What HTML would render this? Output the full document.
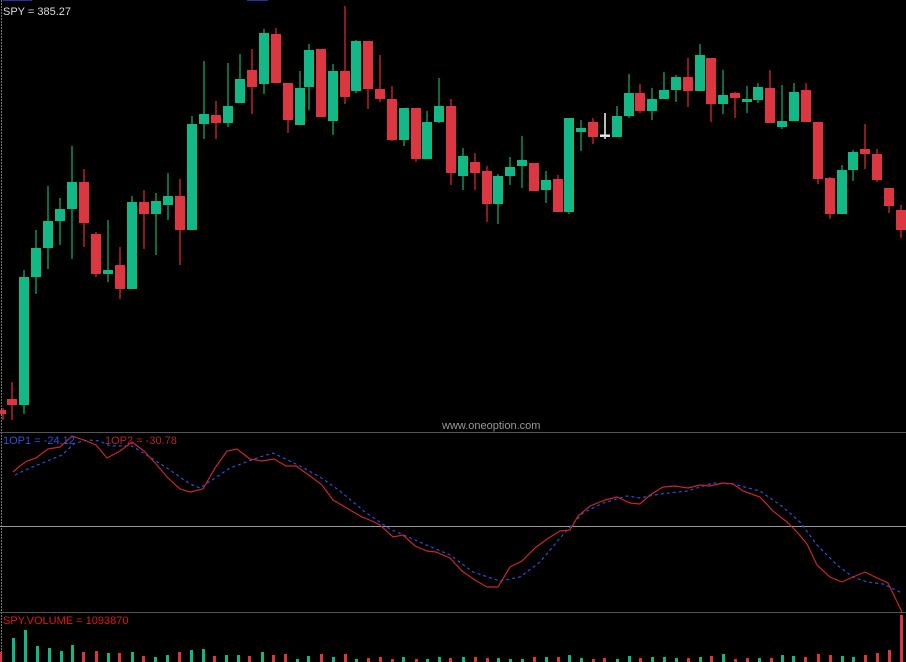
<!DOCTYPE html>
<html><head><meta charset="utf-8"><style>
html,body{margin:0;padding:0;background:#000;}
svg{display:block}
text{font-family:"Liberation Sans",sans-serif;}
</style></head><body>
<svg width="906" height="662" viewBox="0 0 906 662" xmlns="http://www.w3.org/2000/svg">
<rect width="906" height="662" fill="#000"/>
<rect x="3" y="0" width="29" height="1" fill="#2233aa"/>
<rect x="247" y="0" width="21" height="1" fill="#2233aa"/>
<line x1="1.5" y1="0" x2="1.5" y2="662" stroke="#777" stroke-dasharray="2,1"/>
<text x="3" y="15" font-size="11" fill="#ddd">SPY = 385.27</text>
<g stroke-width="2">
<!-- candles: wick then body -->
<g id="c">
<line x1="3" y1="408" x2="3" y2="420" stroke="#8b1a1f"/><rect x="0" y="410" width="6" height="4" fill="#dc3741"/>
<line x1="12" y1="382" x2="12" y2="420" stroke="#8b1a1f"/><rect x="7" y="399" width="10" height="6" fill="#dc3741"/>
<line x1="24" y1="270" x2="24" y2="414" stroke="#0a6b45"/><rect x="19" y="277" width="10" height="128" fill="#12b886"/>
<line x1="36" y1="230" x2="36" y2="294" stroke="#0a6b45"/><rect x="31" y="248" width="10" height="29" fill="#12b886"/>
<line x1="48" y1="186" x2="48" y2="269" stroke="#0a6b45"/><rect x="43" y="221" width="10" height="27" fill="#12b886"/>
<line x1="60" y1="198" x2="60" y2="245" stroke="#0a6b45"/><rect x="55" y="209" width="10" height="12" fill="#12b886"/>
<line x1="72" y1="146" x2="72" y2="259" stroke="#0a6b45"/><rect x="67" y="182" width="10" height="27" fill="#12b886"/>
<line x1="84" y1="169" x2="84" y2="247" stroke="#8b1a1f"/><rect x="79" y="182" width="10" height="41" fill="#dc3741"/>
<line x1="96" y1="232" x2="96" y2="277" stroke="#8b1a1f"/><rect x="91" y="234" width="10" height="40" fill="#dc3741"/>
<line x1="108" y1="220" x2="108" y2="282" stroke="#0a6b45"/><rect x="103" y="270" width="10" height="4" fill="#12b886"/>
<line x1="120" y1="247" x2="120" y2="299" stroke="#8b1a1f"/><rect x="115" y="265" width="10" height="24" fill="#dc3741"/>
<line x1="132" y1="196" x2="132" y2="289" stroke="#0a6b45"/><rect x="127" y="202" width="10" height="87" fill="#12b886"/>
<line x1="144" y1="190" x2="144" y2="249" stroke="#8b1a1f"/><rect x="139" y="202" width="10" height="12" fill="#dc3741"/>
<line x1="156" y1="193" x2="156" y2="255" stroke="#0a6b45"/><rect x="151" y="201" width="10" height="13" fill="#12b886"/>
<line x1="168" y1="173" x2="168" y2="220" stroke="#0a6b45"/><rect x="163" y="196" width="10" height="9" fill="#12b886"/>
<line x1="180" y1="179" x2="180" y2="265" stroke="#8b1a1f"/><rect x="175" y="196" width="10" height="34" fill="#dc3741"/>
<line x1="192" y1="116" x2="192" y2="230" stroke="#0a6b45"/><rect x="187" y="124" width="10" height="106" fill="#12b886"/>
<line x1="204" y1="61" x2="204" y2="139" stroke="#0a6b45"/><rect x="199" y="114" width="10" height="10" fill="#12b886"/>
<line x1="216" y1="101" x2="216" y2="139" stroke="#8b1a1f"/><rect x="211" y="115" width="10" height="8" fill="#dc3741"/>
<line x1="228" y1="63" x2="228" y2="127" stroke="#0a6b45"/><rect x="223" y="106" width="10" height="17" fill="#12b886"/>
<line x1="240" y1="54" x2="240" y2="103" stroke="#0a6b45"/><rect x="235" y="79" width="10" height="24" fill="#12b886"/>
<line x1="252" y1="49" x2="252" y2="114" stroke="#8b1a1f"/><rect x="247" y="70" width="10" height="17" fill="#dc3741"/>
<line x1="264" y1="29" x2="264" y2="94" stroke="#0a6b45"/><rect x="259" y="33" width="10" height="51" fill="#12b886"/>
<line x1="276" y1="28" x2="276" y2="83" stroke="#8b1a1f"/><rect x="271" y="34" width="10" height="49" fill="#dc3741"/>
<line x1="288" y1="83" x2="288" y2="133" stroke="#8b1a1f"/><rect x="283" y="83" width="10" height="37" fill="#dc3741"/>
<line x1="300" y1="71" x2="300" y2="125" stroke="#0a6b45"/><rect x="295" y="88" width="10" height="37" fill="#12b886"/>
<line x1="309" y1="44" x2="309" y2="110" stroke="#0a6b45"/><rect x="304" y="50" width="10" height="37" fill="#12b886"/>
<line x1="321" y1="49" x2="321" y2="117" stroke="#8b1a1f"/><rect x="316" y="49" width="10" height="68" fill="#dc3741"/>
<line x1="333" y1="64" x2="333" y2="135" stroke="#0a6b45"/><rect x="328" y="71" width="10" height="50" fill="#12b886"/>
<line x1="345" y1="6" x2="345" y2="104" stroke="#8b1a1f"/><rect x="340" y="71" width="10" height="26" fill="#dc3741"/>
<line x1="356" y1="40" x2="356" y2="93" stroke="#0a6b45"/><rect x="351" y="41" width="10" height="50" fill="#12b886"/>
<line x1="368" y1="41" x2="368" y2="109" stroke="#8b1a1f"/><rect x="363" y="41" width="10" height="48" fill="#dc3741"/>
<line x1="380" y1="55" x2="380" y2="102" stroke="#8b1a1f"/><rect x="375" y="89" width="10" height="10" fill="#dc3741"/>
<line x1="392" y1="86" x2="392" y2="141" stroke="#8b1a1f"/><rect x="387" y="99" width="10" height="41" fill="#dc3741"/>
<line x1="404" y1="108" x2="404" y2="146" stroke="#0a6b45"/><rect x="399" y="108" width="10" height="32" fill="#12b886"/>
<line x1="416" y1="108" x2="416" y2="162" stroke="#8b1a1f"/><rect x="411" y="108" width="10" height="51" fill="#dc3741"/>
<line x1="427" y1="111" x2="427" y2="159" stroke="#0a6b45"/><rect x="422" y="122" width="10" height="37" fill="#12b886"/>
<line x1="439" y1="78" x2="439" y2="123" stroke="#0a6b45"/><rect x="434" y="106" width="10" height="16" fill="#12b886"/>
<line x1="451" y1="99" x2="451" y2="185" stroke="#8b1a1f"/><rect x="446" y="106" width="10" height="67" fill="#dc3741"/>
<line x1="463" y1="148" x2="463" y2="190" stroke="#0a6b45"/><rect x="458" y="156" width="10" height="20" fill="#12b886"/>
<line x1="475" y1="153" x2="475" y2="190" stroke="#8b1a1f"/><rect x="470" y="162" width="10" height="11" fill="#dc3741"/>
<line x1="487" y1="166" x2="487" y2="222" stroke="#8b1a1f"/><rect x="482" y="171" width="10" height="33" fill="#dc3741"/>
<line x1="498" y1="174" x2="498" y2="224" stroke="#0a6b45"/><rect x="493" y="176" width="10" height="28" fill="#12b886"/>
<line x1="510" y1="157" x2="510" y2="185" stroke="#0a6b45"/><rect x="505" y="167" width="10" height="9" fill="#12b886"/>
<line x1="522" y1="136" x2="522" y2="188" stroke="#0a6b45"/><rect x="517" y="160" width="10" height="6" fill="#12b886"/>
<line x1="534" y1="163" x2="534" y2="191" stroke="#8b1a1f"/><rect x="529" y="163" width="10" height="28" fill="#dc3741"/>
<line x1="546" y1="171" x2="546" y2="203" stroke="#0a6b45"/><rect x="541" y="180" width="10" height="10" fill="#12b886"/>
<line x1="558" y1="175" x2="558" y2="212" stroke="#8b1a1f"/><rect x="553" y="179" width="10" height="33" fill="#dc3741"/>
<line x1="569" y1="118" x2="569" y2="214" stroke="#0a6b45"/><rect x="564" y="118" width="10" height="94" fill="#12b886"/>
<line x1="581" y1="120" x2="581" y2="151" stroke="#0a6b45"/><rect x="576" y="128" width="10" height="4" fill="#12b886"/>
<line x1="593" y1="118" x2="593" y2="144" stroke="#8b1a1f"/><rect x="588" y="122" width="10" height="15" fill="#dc3741"/>
<line x1="605" y1="113" x2="605" y2="139" stroke="#bbb"/><rect x="600" y="135" width="10" height="2" fill="#ddd"/>
<line x1="617" y1="106" x2="617" y2="137" stroke="#0a6b45"/><rect x="612" y="116" width="10" height="21" fill="#12b886"/>
<line x1="629" y1="74" x2="629" y2="118" stroke="#0a6b45"/><rect x="624" y="93" width="10" height="23" fill="#12b886"/>
<line x1="640" y1="84" x2="640" y2="113" stroke="#8b1a1f"/><rect x="635" y="93" width="10" height="18" fill="#dc3741"/>
<line x1="652" y1="88" x2="652" y2="120" stroke="#0a6b45"/><rect x="647" y="99" width="10" height="12" fill="#12b886"/>
<line x1="664" y1="72" x2="664" y2="99" stroke="#0a6b45"/><rect x="659" y="90" width="10" height="9" fill="#12b886"/>
<line x1="676" y1="75" x2="676" y2="102" stroke="#0a6b45"/><rect x="671" y="77" width="10" height="13" fill="#12b886"/>
<line x1="688" y1="58" x2="688" y2="107" stroke="#8b1a1f"/><rect x="683" y="77" width="10" height="14" fill="#dc3741"/>
<line x1="700" y1="44" x2="700" y2="91" stroke="#0a6b45"/><rect x="695" y="55" width="10" height="36" fill="#12b886"/>
<line x1="711" y1="58" x2="711" y2="122" stroke="#8b1a1f"/><rect x="706" y="58" width="10" height="46" fill="#dc3741"/>
<line x1="723" y1="70" x2="723" y2="114" stroke="#0a6b45"/><rect x="718" y="95" width="10" height="9" fill="#12b886"/>
<line x1="735" y1="92" x2="735" y2="118" stroke="#8b1a1f"/><rect x="730" y="93" width="10" height="5" fill="#dc3741"/>
<line x1="747" y1="86" x2="747" y2="113" stroke="#0a6b45"/><rect x="742" y="99" width="10" height="3" fill="#12b886"/>
<line x1="758" y1="83" x2="758" y2="103" stroke="#0a6b45"/><rect x="753" y="87" width="10" height="13" fill="#12b886"/>
<line x1="770" y1="70" x2="770" y2="123" stroke="#8b1a1f"/><rect x="765" y="88" width="10" height="35" fill="#dc3741"/>
<line x1="782" y1="85" x2="782" y2="129" stroke="#0a6b45"/><rect x="777" y="121" width="10" height="6" fill="#12b886"/>
<line x1="794" y1="83" x2="794" y2="121" stroke="#0a6b45"/><rect x="789" y="92" width="10" height="29" fill="#12b886"/>
<line x1="806" y1="83" x2="806" y2="122" stroke="#8b1a1f"/><rect x="801" y="90" width="10" height="32" fill="#dc3741"/>
<line x1="818" y1="122" x2="818" y2="184" stroke="#8b1a1f"/><rect x="813" y="122" width="10" height="57" fill="#dc3741"/>
<line x1="830" y1="177" x2="830" y2="219" stroke="#8b1a1f"/><rect x="825" y="178" width="10" height="36" fill="#dc3741"/>
<line x1="842" y1="165" x2="842" y2="214" stroke="#0a6b45"/><rect x="837" y="170" width="10" height="44" fill="#12b886"/>
<line x1="853" y1="150" x2="853" y2="181" stroke="#0a6b45"/><rect x="848" y="152" width="10" height="18" fill="#12b886"/>
<line x1="865" y1="124" x2="865" y2="169" stroke="#8b1a1f"/><rect x="860" y="149" width="10" height="5" fill="#dc3741"/>
<line x1="877" y1="149" x2="877" y2="182" stroke="#8b1a1f"/><rect x="872" y="154" width="10" height="26" fill="#dc3741"/>
<line x1="889" y1="188" x2="889" y2="213" stroke="#8b1a1f"/><rect x="884" y="188" width="10" height="18" fill="#dc3741"/>
<line x1="901" y1="205" x2="901" y2="238" stroke="#8b1a1f"/><rect x="896" y="210" width="10" height="20" fill="#dc3741"/>
</g>
</g>
<line x1="600" y1="135" x2="610" y2="135" stroke="#eee" stroke-width="1"/>
<text x="442" y="429" font-size="11" fill="#999">www.oneoption.com</text>
<line x1="0" y1="432.5" x2="906" y2="432.5" stroke="#555"/>
<line x1="0" y1="526.5" x2="906" y2="526.5" stroke="#999"/>
<line x1="0" y1="612.5" x2="906" y2="612.5" stroke="#555"/>
<polyline fill="none" stroke="#2f4fd8" stroke-width="1.2" stroke-dasharray="3,3" points="15,475 30,468 45,462 62,455 75,443 88,440 100,441 110,446 132,446 145,454 170,470 190,484 200,488 230,468 260,457 273,453 300,466 320,477 340,491 365,512 390,529 415,540 450,555 473,572 500,581 520,577 540,562 560,538 583,513 603,503 627,496 640,498 660,494 687,491 713,483 733,484 760,491 783,507 800,522 817,545 837,565 853,577 867,582 883,584 902,593"/>
<polyline fill="none" stroke="#c8262e" stroke-width="1.2" points="13,472 20,466 27,461 36,458 48,449 60,447 72,436 84,440 96,445 107,458 120,451 132,442 144,451 156,464 168,478 180,489 190,492 203,489 215,468 227,451 237,449 250,459 262,461 274,459 286,466 296,466 310,476 322,485 333,500 350,510 362,517 372,521 380,525 393,537 403,535 415,546 427,551 436,552 450,558 462,571 475,580 487,587 498,587 510,567 522,561 535,548 547,539 560,531 570,530 578,516 590,506 605,500 617,497 630,503 640,504 650,495 663,487 675,486 688,488 700,485 710,486 723,483 733,484 743,491 760,497 773,511 787,522 797,532 807,544 817,565 830,577 842,582 853,577 865,572 877,578 888,583 902,612"/>
<text x="3" y="444" font-size="11" fill="#2f4fd8">1OP1 = -24.12</text>
<text x="105" y="444" font-size="11" fill="#b3262d">1OP2 = -30.78</text>
<text x="3" y="624" font-size="11" fill="#dd1a1a">SPY.VOLUME = 1093870</text>
<g>
<rect x="0" y="652" width="2" height="10" fill="#dc3741"/>
<rect x="12" y="638" width="3" height="24" fill="#12b886"/>
<rect x="24" y="630" width="3" height="32" fill="#12b886"/>
<rect x="36" y="646" width="3" height="16" fill="#12b886"/>
<rect x="48" y="648" width="3" height="14" fill="#12b886"/>
<rect x="60" y="651" width="3" height="11" fill="#12b886"/>
<rect x="71" y="645" width="3" height="17" fill="#12b886"/>
<rect x="82" y="652" width="3" height="10" fill="#dc3741"/>
<rect x="95" y="651" width="3" height="11" fill="#dc3741"/>
<rect x="107" y="653" width="3" height="9" fill="#12b886"/>
<rect x="118" y="653" width="3" height="9" fill="#dc3741"/>
<rect x="131" y="652" width="3" height="10" fill="#12b886"/>
<rect x="142" y="656" width="3" height="6" fill="#dc3741"/>
<rect x="154" y="657" width="3" height="5" fill="#12b886"/>
<rect x="166" y="655" width="3" height="7" fill="#12b886"/>
<rect x="178" y="652" width="3" height="10" fill="#dc3741"/>
<rect x="190" y="650" width="3" height="12" fill="#12b886"/>
<rect x="202" y="649" width="3" height="13" fill="#12b886"/>
<rect x="213" y="656" width="3" height="6" fill="#dc3741"/>
<rect x="225" y="655" width="3" height="7" fill="#12b886"/>
<rect x="237" y="655" width="3" height="7" fill="#12b886"/>
<rect x="248" y="656" width="3" height="6" fill="#dc3741"/>
<rect x="261" y="652" width="3" height="10" fill="#12b886"/>
<rect x="272" y="655" width="3" height="7" fill="#dc3741"/>
<rect x="284" y="654" width="3" height="8" fill="#dc3741"/>
<rect x="296" y="659" width="3" height="3" fill="#12b886"/>
<rect x="307" y="656" width="3" height="6" fill="#12b886"/>
<rect x="320" y="654" width="3" height="8" fill="#dc3741"/>
<rect x="332" y="657" width="3" height="5" fill="#12b886"/>
<rect x="344" y="654" width="3" height="8" fill="#dc3741"/>
<rect x="355" y="659" width="3" height="3" fill="#12b886"/>
<rect x="367" y="658" width="3" height="4" fill="#dc3741"/>
<rect x="379" y="657" width="3" height="5" fill="#dc3741"/>
<rect x="391" y="659" width="3" height="3" fill="#dc3741"/>
<rect x="402" y="657" width="3" height="5" fill="#12b886"/>
<rect x="415" y="659" width="3" height="3" fill="#dc3741"/>
<rect x="426" y="659" width="3" height="3" fill="#12b886"/>
<rect x="438" y="657" width="3" height="5" fill="#12b886"/>
<rect x="449" y="658" width="3" height="4" fill="#dc3741"/>
<rect x="462" y="657" width="3" height="5" fill="#12b886"/>
<rect x="474" y="657" width="3" height="5" fill="#dc3741"/>
<rect x="486" y="658" width="3" height="4" fill="#dc3741"/>
<rect x="497" y="658" width="3" height="4" fill="#12b886"/>
<rect x="509" y="659" width="3" height="3" fill="#12b886"/>
<rect x="521" y="659" width="3" height="3" fill="#12b886"/>
<rect x="533" y="657" width="3" height="5" fill="#dc3741"/>
<rect x="545" y="657" width="3" height="5" fill="#12b886"/>
<rect x="557" y="657" width="3" height="5" fill="#dc3741"/>
<rect x="568" y="655" width="3" height="7" fill="#12b886"/>
<rect x="580" y="658" width="3" height="4" fill="#12b886"/>
<rect x="592" y="659" width="3" height="3" fill="#dc3741"/>
<rect x="603" y="658" width="3" height="4" fill="#dc3741"/>
<rect x="616" y="659" width="3" height="3" fill="#12b886"/>
<rect x="628" y="656" width="3" height="6" fill="#12b886"/>
<rect x="639" y="658" width="3" height="4" fill="#dc3741"/>
<rect x="651" y="657" width="3" height="5" fill="#12b886"/>
<rect x="663" y="657" width="3" height="5" fill="#12b886"/>
<rect x="675" y="658" width="3" height="4" fill="#12b886"/>
<rect x="687" y="658" width="3" height="4" fill="#dc3741"/>
<rect x="699" y="657" width="3" height="5" fill="#12b886"/>
<rect x="710" y="656" width="3" height="6" fill="#dc3741"/>
<rect x="722" y="654" width="3" height="8" fill="#12b886"/>
<rect x="734" y="659" width="3" height="3" fill="#dc3741"/>
<rect x="746" y="658" width="3" height="4" fill="#dc3741"/>
<rect x="758" y="658" width="3" height="4" fill="#12b886"/>
<rect x="770" y="658" width="3" height="4" fill="#dc3741"/>
<rect x="781" y="655" width="3" height="7" fill="#12b886"/>
<rect x="792" y="656" width="3" height="6" fill="#12b886"/>
<rect x="804" y="657" width="3" height="5" fill="#dc3741"/>
<rect x="817" y="654" width="3" height="8" fill="#dc3741"/>
<rect x="829" y="655" width="3" height="7" fill="#dc3741"/>
<rect x="841" y="656" width="3" height="6" fill="#12b886"/>
<rect x="852" y="657" width="3" height="5" fill="#12b886"/>
<rect x="864" y="655" width="3" height="7" fill="#dc3741"/>
<rect x="876" y="653" width="3" height="9" fill="#dc3741"/>
<rect x="888" y="650" width="3" height="12" fill="#dc3741"/>
<rect x="900" y="615" width="3" height="47" fill="#dc3741"/>
</g>
</svg>
</body></html>
